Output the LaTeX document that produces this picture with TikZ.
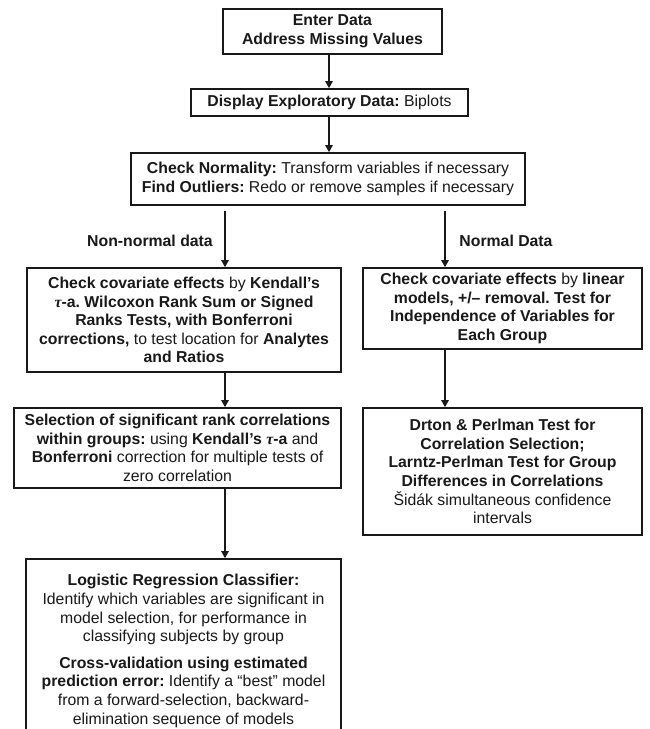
\documentclass[tikz,border=0pt]{standalone}
\usepackage{fontspec}
\setmainfont{Liberation Sans}
\newfontfamily\taufont{Liberation Serif}
\usetikzlibrary{arrows.meta}
\newcommand{\tauA}{{\taufont\bfseries\itshape τ}}
\frenchspacing
\tikzset{
  fbox/.style={draw=black!90, line width=1.7pt, align=center, inner sep=0pt,
    font=\fontsize{15.8}{18.6}\selectfont\frenchspacing, text=black!90},
  lbl/.style={font=\fontsize{15.8}{18.6}\selectfont\bfseries, text=black!90, inner sep=0pt},
  arr/.style={draw=black!90, line width=1.3pt, -{Triangle[length=7pt,width=7.5pt]}}
}
\begin{document}
\begin{tikzpicture}[x=1pt,y=-1pt]
\useasboundingbox (0,0) rectangle (649,729);
\clip (0,0) rectangle (649,729);
\fill[white] (0,0) rectangle (649,729);

\node[fbox, minimum width=219pt, minimum height=45pt] (b1) at (332.5,31.5)
  {\textbf{Enter Data}\\\textbf{Address Missing Values}};
\node[fbox, minimum width=277pt, minimum height=27pt] (b2) at (329.5,102.5)
  {\textbf{Display Exploratory Data:} Biplots};
\node[fbox, minimum width=394pt, minimum height=52pt] (b3) at (328,179)
  {\textbf{Check Normality:} Transform variables if necessary\\\textbf{Find Outliers:} Redo or remove samples if necessary};
\node[fbox, minimum width=314pt, minimum height=104pt] (b4) at (184,320)
  {\textbf{Check covariate effects} by \textbf{Kendall's}\\
   \textbf{\tauA-a. Wilcoxon Rank Sum or Signed}\\
   \textbf{Ranks Tests, with Bonferroni}\\
   \textbf{corrections,} to test location for \textbf{Analytes}\\
   \textbf{and Ratios}};
\node[fbox, minimum width=279pt, minimum height=81pt] (b5) at (502.5,308.5)
  {\textbf{Check covariate effects} by \textbf{linear}\\
   \textbf{models, +/– removal. Test for}\\
   \textbf{Independence of Variables for}\\
   \textbf{Each Group}};
\node[fbox, minimum width=327pt, minimum height=80pt] (b6) at (177.5,448)
  {\textbf{Selection of significant rank correlations}\\
   \textbf{within groups:} using \textbf{Kendall's \tauA-a} and\\
   \textbf{Bonferroni} correction for multiple tests of\\
   zero correlation};
\node[fbox, minimum width=315pt, minimum height=184pt] (b7) at (183.5,651)
  {\textbf{Logistic Regression Classifier:}\\
   Identify which variables are significant in\\
   model selection, for performance in\\
   classifying subjects by group\\[8pt]
   \textbf{Cross-validation using estimated}\\
   \textbf{prediction error:} Identify a “best” model\\
   from a forward-selection, backward-\\
   elimination sequence of models};
\node[fbox, minimum width=279pt, minimum height=127pt] (b8) at (502.5,471.5)
  {\textbf{Drton \& Perlman Test for}\\
   \textbf{Correlation Selection;}\\
   \textbf{Larntz-Perlman Test for Group}\\
   \textbf{Differences in Correlations}\\
   Šidák simultaneous confidence\\
   intervals};

\node[lbl] (lnn) at (150,241) {Non-normal data};
\node[lbl] (lnd) at (506,241) {Normal Data};

\coordinate (cm) at (329,0);
\coordinate (cl) at (225,0);
\coordinate (cr) at (445,0);

\draw[arr] (b1.south -| cm) -- (b2.north -| cm);
\draw[arr] (b2.south -| cm) -- (b3.north -| cm);
\draw[arr, shorten <=5pt] (b3.south -| cl) -- (b4.north -| cl);
\draw[arr, shorten <=5pt] (b3.south -| cr) -- (b5.north -| cr);
\draw[arr] (b4.south -| cl) -- (b6.north -| cl);
\draw[arr] (b6.south -| cl) -- (b7.north -| cl);
\draw[arr] (b5.south -| cr) -- (b8.north -| cr);
\end{tikzpicture}
\end{document}
